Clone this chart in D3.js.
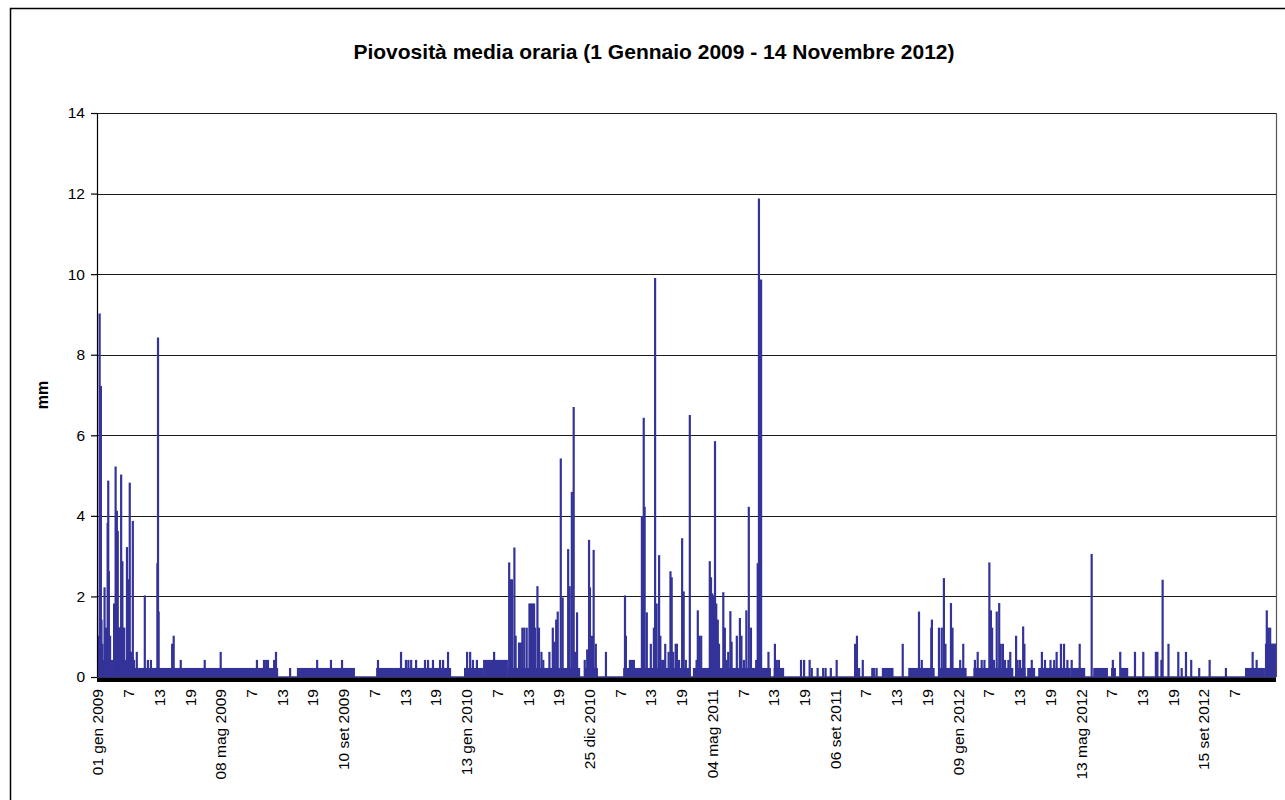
<!DOCTYPE html>
<html>
<head>
<meta charset="utf-8">
<script src="https://cdn.jsdelivr.net/npm/d3@7/dist/d3.min.js"></script>
<style>
  html, body { margin: 0; padding: 0; background: #fff; }
  svg { display: block; font-family: "Liberation Sans", Arial, sans-serif; }
</style>
</head>
<body>
<svg id="chart" width="1285" height="800"></svg>
<script>
// Hourly mean rainfall, 1 Jan 2009 - 14 Nov 2012.
// Positions are measured along the category axis in label steps (one step = one tick label).

const chartTitle = "Piovosità media oraria (1 Gennaio 2009 - 14 Novembre 2012)";
const yTitle = "mm";

const tickLabels = [
  "01 gen 2009", "7", "13", "19",
  "08 mag 2009", "7", "13", "19",
  "10 set 2009", "7", "13", "19",
  "13 gen 2010", "7", "13", "19",
  "25 dic 2010", "7", "13", "19",
  "04 mag 2011", "7", "13", "19",
  "06 set 2011", "7", "13", "19",
  "09 gen 2012", "7", "13", "19",
  "13 mag 2012", "7", "13", "19",
  "15 set 2012", "7"
];
const axisEnd = 38.36;          // last record, in label steps
const yTicks = [0, 2, 4, 6, 8, 10, 12, 14];

// Stretches of continuous light rain (start step, end step, mm)
const bandFrom = [0.02, 6.49, 9.07, 11.93, 12.55, 13.36, 15.84, 17.11, 19.38, 22.01,
                  25.53, 26.39, 27.37, 28.51, 29.87, 30.26, 30.62, 31.66, 32.41, 32.99, 33.28, 37.35, 38.00];
const bandTo   = [5.88, 8.38, 11.51, 12.55, 13.36, 15.71, 16.29, 19.30, 21.92, 22.35,
                  25.91, 27.25, 28.29, 29.81, 30.21, 30.52, 31.66, 32.15, 32.89, 33.15, 33.55, 38.00, 38.36];
const bandMm   = [0.2, 0.2, 0.2, 0.2, 0.4, 0.2, 0.2, 0.2, 0.2, 0.2,
                  0.2, 0.2, 0.2, 0.2, 0.2, 0.2, 0.2, 0.2, 0.2, 0.2, 0.2, 0.2, 0.8];

// Individual hourly readings above the background level
const rainStep = [
  // 2009
  0.03, 0.07, 0.11, 0.13, 0.16, 0.20, 0.23, 0.28, 0.33, 0.35, 0.37, 0.41, 0.47, 0.54, 0.59,
  0.63, 0.66, 0.68, 0.70, 0.73, 0.75, 0.77, 0.81, 0.84, 0.87, 0.93, 0.96, 1.00, 1.05, 1.07,
  1.09, 1.15, 1.19, 1.28, 1.54, 1.64, 1.74, 1.95, 1.97, 1.99, 2.43, 2.48, 2.71, 3.49, 4.01,
  5.19, 5.42, 5.49, 5.55, 5.75, 5.81, 6.27, 7.15, 7.60, 7.96, 9.13, 9.88, 10.04, 10.12, 10.21,
  10.37, 10.66, 10.76, 10.92, 11.15, 11.25, 11.41,
  // 2010
  12.03, 12.13, 12.22, 12.35, 12.91, 13.40, 13.44, 13.49, 13.57, 13.61, 13.72, 13.78, 13.83,
  13.89, 13.97, 14.06, 14.11, 14.16, 14.21, 14.24, 14.32, 14.37, 14.45, 14.51, 14.71, 14.82,
  14.87, 14.93, 14.98, 15.08, 15.14, 15.32, 15.37, 15.44, 15.50, 15.55, 15.61, 15.86, 15.94,
  16.00, 16.03, 16.10, 16.15, 16.22, 16.55,
  // winter / spring 2011
  17.17, 17.20, 17.33, 17.40, 17.46, 17.72, 17.78, 17.81, 17.88, 18.01, 18.11, 18.15, 18.20,
  18.28, 18.32, 18.38, 18.43, 18.48, 18.59, 18.65, 18.69, 18.74, 18.82, 18.86, 18.93, 19.03,
  19.08, 19.15, 19.28, 19.50, 19.54, 19.59, 19.65, 19.93, 19.97, 20.01, 20.05, 20.10, 20.14,
  20.19, 20.23, 20.37, 20.42, 20.48, 20.53, 20.60, 20.64, 20.81, 20.91, 20.96, 21.04, 21.12,
  21.20, 21.27, 21.44, 21.49, 21.53, 21.60, 21.84, 22.05, 22.11, 22.18,
  // summer / autumn 2011
  22.90, 23.00, 23.18, 23.25, 23.44, 23.62, 23.70, 23.87, 24.06, 24.66, 24.72, 24.79, 24.91,
  25.22, 25.28, 25.36, 26.21, 26.74, 26.83, 27.14, 27.16, 27.39, 27.48, 27.55, 27.60, 27.78,
  27.83, 28.08, 28.18, 28.56, 28.65, 28.78, 28.87,
  // 2012
  29.03, 29.08, 29.12, 29.18, 29.27, 29.35, 29.40, 29.47, 29.54, 29.65, 29.71, 29.90, 29.95,
  30.03, 30.13, 30.17, 30.41, 30.74, 30.84, 31.02, 31.14, 31.22, 31.36, 31.46, 31.57, 31.71,
  31.97, 32.36, 33.05, 33.29, 33.77, 34.04, 34.45, 34.50, 34.63, 34.67, 34.86, 35.18, 35.29,
  35.43, 35.60, 35.86, 36.20, 36.73, 37.60, 37.73, 37.86, 38.06, 38.11, 38.17, 38.22, 38.27, 38.33
];
const rainMm = [
  // 2009
  1.0, 9.0, 7.2, 1.4, 0.8, 0.4, 2.2, 1.2, 3.8, 4.85, 2.6, 1.0, 0.4, 1.8, 5.2,
  4.1, 3.6, 1.2, 1.2, 1.2, 1.2, 5.0, 2.85, 1.2, 1.2, 0.4, 3.2, 2.4, 4.8, 0.6,
  0.6, 3.85, 0.4, 0.6, 2.0, 0.4, 0.4, 2.8, 8.4, 1.6, 0.8, 1.0, 0.4, 0.4, 0.6,
  0.4, 0.4, 0.4, 0.4, 0.4, 0.6, 0.2, 0.4, 0.4, 0.4, 0.4, 0.6, 0.4, 0.4, 0.4,
  0.4, 0.4, 0.4, 0.4, 0.4, 0.4, 0.6,
  // 2010
  0.6, 0.6, 0.4, 0.4, 0.6, 2.82, 2.4, 2.4, 3.19, 1.0, 0.83, 0.83, 1.2,
  1.2, 1.2, 1.8, 1.8, 1.8, 1.8, 1.2, 2.23, 1.2, 0.6, 0.4, 0.6, 1.2,
  0.85, 1.4, 1.6, 5.4, 1.95, 3.15, 2.23, 4.57, 6.68, 0.6, 1.58, 0.4, 0.66,
  3.38, 2.2, 1.0, 3.13, 0.8, 0.6,
  // winter / spring 2011
  2.0, 1.0, 0.4, 0.4, 0.4, 3.97, 6.41, 4.2, 1.58, 0.8, 1.2, 9.88, 1.8,
  3.0, 1.0, 0.4, 0.4, 0.8, 0.6, 2.6, 2.45, 0.6, 0.8, 0.8, 0.4, 3.42,
  2.1, 0.4, 6.48, 0.4, 1.63, 1.0, 1.0, 2.85, 2.45, 2.05, 2.0, 5.83, 1.8,
  1.4, 0.8, 2.08, 1.2, 0.4, 0.6, 1.61, 0.85, 1.0, 1.44, 1.0, 0.4, 1.63,
  4.2, 1.2, 0.4, 2.8, 11.85, 9.84, 0.6, 0.8, 0.4, 0.4,
  // summer / autumn 2011
  0.4, 0.4, 0.4, 0.2, 0.2, 0.2, 0.2, 0.2, 0.4, 0.8, 1.0, 0.2, 0.4,
  0.2, 0.2, 0.2, 0.8, 1.6, 0.4, 1.2, 1.4, 1.2, 1.2, 2.43, 0.8, 1.81,
  1.2, 0.4, 0.8, 0.4, 0.6, 0.4, 0.4,
  // 2012
  2.82, 1.63, 1.2, 0.4, 1.6, 1.81, 0.8, 0.8, 0.4, 0.4, 0.6, 1.0, 0.4,
  0.4, 1.23, 0.8, 0.4, 0.6, 0.4, 0.4, 0.4, 0.6, 0.8, 0.8, 0.4, 0.4,
  0.8, 3.03, 0.4, 0.6, 0.6, 0.6, 0.6, 0.6, 0.4, 2.39, 0.8, 0.6, 0.2,
  0.6, 0.4, 0.2, 0.4, 0.2, 0.6, 0.4, 0.2, 1.63, 1.2, 1.2, 0.8, 0.8, 0.8
];

const seriesColor = "#333399";

const svg = d3.select("#chart");
const W = 1285, H = 800;
const plot = { left: 97, right: 1276, top: 113, bottom: 677 };

svg.append("rect").attr("width", W).attr("height", H).attr("fill", "#fff");

// chart frame
svg.append("rect")
  .attr("x", 10.5).attr("y", 8.5)
  .attr("width", W + 20).attr("height", H + 20)
  .attr("fill", "none").attr("stroke", "#000").attr("stroke-width", 1.5);

const x = d3.scaleLinear().domain([-0.016, axisEnd]).range([plot.left, plot.right]);
const y = d3.scaleLinear().domain([0, 14]).range([plot.bottom, plot.top]);

// horizontal gridlines
svg.append("g")
  .selectAll("line")
  .data(yTicks.filter(d => d > 0))
  .join("line")
  .attr("x1", plot.left).attr("x2", plot.right)
  .attr("y1", d => Math.round(y(d)) + 0.5).attr("y2", d => Math.round(y(d)) + 0.5)
  .attr("stroke", "#1a1a1a").attr("stroke-width", 1.2);

// right edge of the plot area
svg.append("line")
  .attr("x1", plot.right + 0.5).attr("x2", plot.right + 0.5)
  .attr("y1", plot.top).attr("y2", plot.bottom)
  .attr("stroke", "#555").attr("stroke-width", 1.2);

// series: background rain stretches
const bands = bandFrom.map((f, i) => ({ from: f, to: bandTo[i], mm: bandMm[i] }));
svg.append("g")
  .selectAll("rect")
  .data(bands)
  .join("rect")
  .attr("x", d => x(d.from))
  .attr("width", d => Math.max(1, x(d.to) - x(d.from)))
  .attr("y", d => y(d.mm) - 1)
  .attr("height", d => y(0) - y(d.mm) + 1)
  .attr("fill", seriesColor);

// series: individual readings
const readings = rainStep.map((s, i) => ({ step: s, mm: rainMm[i] }));
svg.append("g")
  .selectAll("line")
  .data(readings)
  .join("line")
  .attr("x1", d => x(d.step)).attr("x2", d => x(d.step))
  .attr("y1", y(0)).attr("y2", d => y(d.mm) - 1)
  .attr("stroke", seriesColor).attr("stroke-width", 2.2);

// zero line of the series
svg.append("line")
  .attr("x1", plot.left).attr("x2", plot.right)
  .attr("y1", y(0)).attr("y2", y(0))
  .attr("stroke", seriesColor).attr("stroke-width", 1.5);

// category axis: one tick per record, packed into a solid band
svg.append("rect")
  .attr("x", plot.left).attr("y", y(0) + 0.5)
  .attr("width", plot.right - plot.left).attr("height", 4.5)
  .attr("fill", "#000");

// value axis
const yAxis = svg.append("g")
  .attr("transform", `translate(${plot.left},0)`)
  .call(d3.axisLeft(y).tickValues(yTicks).tickSize(6).tickPadding(6).tickFormat(d3.format("d")));
yAxis.select(".domain").attr("stroke", "#000").attr("stroke-width", 1.2)
  .attr("d", `M0.5,${plot.top}V${plot.bottom}`);
yAxis.selectAll(".tick line").attr("stroke", "#000").attr("stroke-width", 1.2);
yAxis.selectAll(".tick text")
  .attr("font-family", "'Liberation Sans', Arial, sans-serif")
  .attr("font-size", "15.5px").attr("fill", "#000");

// category labels
const xAxis = svg.append("g")
  .attr("transform", `translate(0,${plot.bottom})`)
  .call(d3.axisBottom(x).tickValues(d3.range(tickLabels.length)).tickSize(0)
    .tickFormat(i => tickLabels[i]));
xAxis.select(".domain").remove();
xAxis.selectAll(".tick text")
  .attr("font-family", "'Liberation Sans', Arial, sans-serif")
  .attr("font-size", "15.5px").attr("fill", "#000")
  .attr("text-anchor", "end")
  .attr("transform", "rotate(-90)")
  .attr("x", -12).attr("y", 0).attr("dy", "0.35em");

// titles
svg.append("text")
  .attr("x", 654).attr("y", 59)
  .attr("text-anchor", "middle")
  .attr("font-size", "21px").attr("font-weight", "bold")
  .text(chartTitle);

svg.append("text")
  .attr("transform", "translate(48,395) rotate(-90)")
  .attr("text-anchor", "middle")
  .attr("font-size", "16px").attr("font-weight", "bold")
  .text(yTitle);
</script>
</body>
</html>
